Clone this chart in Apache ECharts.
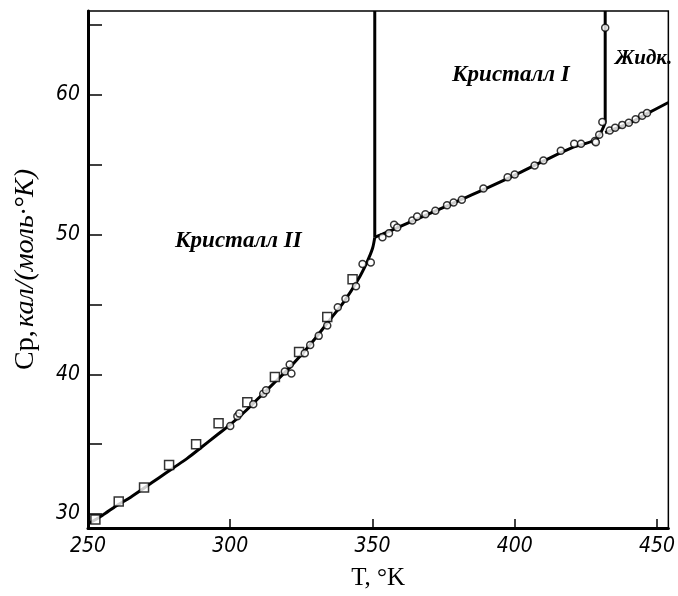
<!DOCTYPE html>
<html>
<head>
<meta charset="utf-8">
<script src="https://cdn.jsdelivr.net/npm/echarts@6/dist/echarts.min.js"></script>
<style>html,body{margin:0;padding:0;background:#fff;}#c{width:678px;height:596px;}</style>
</head>
<body>
<div id="c"></div>
<script>
// ---- data ----
const xTickLabels = [250, 300, 350, 400, 450];
const yTickLabels = [30, 40, 50, 60];
const yTickMarks = [30, 35, 40, 45, 50, 55, 60, 65];
const xTickMarks = [300, 350, 400, 450];

// squares (crystal II)
const sqT  = [252.6, 260.8, 269.7, 278.5, 288.0, 295.9, 306.0, 315.7, 324.2, 334.1, 343.0];
const sqCp = [29.6, 30.9, 31.9, 33.5, 35.0, 36.5, 38.0, 39.8, 41.6, 44.1, 46.8];

// circles (crystal II)
const c2T  = [300.0, 302.5, 303.2, 308.1, 311.6, 312.6, 319.2, 320.9, 321.5, 326.2, 328.1, 331.1, 334.1, 337.8, 340.5, 344.2, 346.5, 349.4];
const c2Cp = [36.3, 37.0, 37.2, 37.85, 38.6, 38.85, 40.2, 40.7, 40.05, 41.5, 42.1, 42.75, 43.5, 44.8, 45.4, 46.3, 47.9, 48.0];

// circles (crystal I)
const c1T  = [353.5, 355.8, 357.6, 358.7, 364.0, 365.7, 368.6, 372.1, 376.2, 378.5, 381.4, 389.0, 397.5, 400.0, 407.0, 410.1, 416.2, 420.9, 423.3, 428.2, 428.5, 429.7, 430.8];
const c1Cp = [49.8, 50.1, 50.7, 50.5, 51.0, 51.3, 51.45, 51.7, 52.1, 52.3, 52.5, 53.3, 54.1, 54.3, 54.95, 55.3, 56.0, 56.5, 56.5, 56.7, 56.6, 57.15, 58.05];

// circles (liquid)
const lqT  = [431.8, 433.4, 435.3, 437.8, 440.1, 442.5, 444.8, 446.5];
const lqCp = [64.8, 57.45, 57.65, 57.85, 58.0, 58.25, 58.5, 58.7];

// smooth curves
const curve2T  = [250, 255, 260, 265, 270, 275, 280, 285, 290, 295, 300, 305, 310, 315, 320, 325, 330, 335, 340, 345, 348, 350, 350.8];
const curve2Cp = [29.3, 29.9, 30.6, 31.2, 31.9, 32.6, 33.3, 34.0, 34.8, 35.6, 36.4, 37.3, 38.3, 39.3, 40.3, 41.4, 42.6, 43.9, 45.2, 46.8, 48.0, 49.0, 49.8];
const curve1T  = [350.8, 355, 360, 370, 380, 390, 400, 410, 420, 428, 430, 431.8];
const curve1Cp = [49.8, 50.15, 50.6, 51.5, 52.4, 53.3, 54.25, 55.25, 56.2, 56.75, 57.2, 58.0];
const liqT  = [431.8, 440, 446, 454];
const liqCp = [57.3, 57.95, 58.6, 59.45];
const trans1T = [350.8, 350.8];
const trans1Cp = [49.8, 66];
const trans2T = [431.8, 431.8];
const trans2Cp = [58.0, 66];

const zip = (a, b) => a.map((v, i) => [v, b[i]]);

const numFont = "'DejaVu Sans Condensed', 'Liberation Sans Narrow', 'Liberation Sans', sans-serif";
const serif = "'Liberation Serif', 'DejaVu Serif', serif";

const lineStyle = (w) => ({ color: '#000', width: w });
const lineSeries = (data, w) => ({
  type: 'line', data, showSymbol: false, symbol: 'none', smooth: 0.3,
  lineStyle: lineStyle(w), z: 2, silent: true
});
const scatterSeries = (data, symbol, size) => ({
  type: 'scatter', data, symbol, symbolSize: size,
  itemStyle: { color: '#fff', borderColor: '#000', borderWidth: 1.5 }, z: 5, silent: true
});

const chart = echarts.init(document.getElementById('c'), null, { renderer: 'canvas' });
chart.setOption({
  animation: false,
  backgroundColor: '#fff',
  grid: { left: 88, right: 6, top: 11, bottom: 66, show: true, borderColor: '#000', borderWidth: 1.5, backgroundColor: 'transparent' },
  xAxis: {
    type: 'value', min: 250, max: 454,
    name: 'T, °K', nameLocation: 'middle', nameGap: 38,
    nameTextStyle: { fontFamily: serif, fontSize: 25, color: '#000' },
    axisLine: { show: true, onZero: false, lineStyle: { color: '#000', width: 3 } },
    axisTick: { show: true, inside: true, length: 9, customValues: xTickMarks, lineStyle: { color: '#000', width: 1.5 } },
    axisLabel: { customValues: xTickLabels, margin: 8, fontFamily: numFont, fontStyle: 'italic', fontSize: 21, color: '#000' },
    splitLine: { show: false }
  },
  yAxis: {
    type: 'value', min: 29, max: 66,
    name: '{a|Cp,} {b|кал/(моль·°K)}', nameLocation: 'middle', nameGap: 48,
    nameTextStyle: {
      color: '#000',
      rich: {
        a: { fontFamily: serif, fontSize: 28, color: '#000' },
        b: { fontFamily: serif, fontStyle: 'italic', fontSize: 28, color: '#000' }
      }
    },
    axisLine: { show: true, onZero: false, lineStyle: { color: '#000', width: 3 } },
    axisTick: { show: true, inside: true, length: 14, customValues: yTickMarks, lineStyle: { color: '#000', width: 1.5 } },
    axisLabel: { customValues: yTickLabels, margin: 8, fontFamily: numFont, fontStyle: 'italic', fontSize: 21, color: '#000' },
    splitLine: { show: false }
  },
  graphic: [
    { type: 'text', left: 175, top: 230, style: { text: 'Кристалл II', font: "italic bold 23px 'Liberation Serif', serif", fill: '#000' } },
    { type: 'text', left: 452, top: 64, style: { text: 'Кристалл I', font: "italic bold 23px 'Liberation Serif', serif", fill: '#000' } },
    { type: 'text', left: 615, top: 48, style: { text: 'Жидк.', font: "italic bold 21px 'Liberation Serif', serif", fill: '#000' } }
  ],
  series: [
    lineSeries(zip(curve2T, curve2Cp), 3),
    lineSeries(zip(curve1T, curve1Cp), 3),
    lineSeries(zip(liqT, liqCp), 3),
    Object.assign(lineSeries(zip(trans1T, trans1Cp), 3), { smooth: false }),
    Object.assign(lineSeries(zip(trans2T, trans2Cp), 3), { smooth: false }),
    scatterSeries(zip(sqT, sqCp), 'rect', 9),
    scatterSeries(zip(c2T, c2Cp), 'circle', 7),
    scatterSeries(zip(c1T, c1Cp), 'circle', 7),
    scatterSeries(zip(lqT, lqCp), 'circle', 7)
  ]
});
</script>
</body>
</html>
